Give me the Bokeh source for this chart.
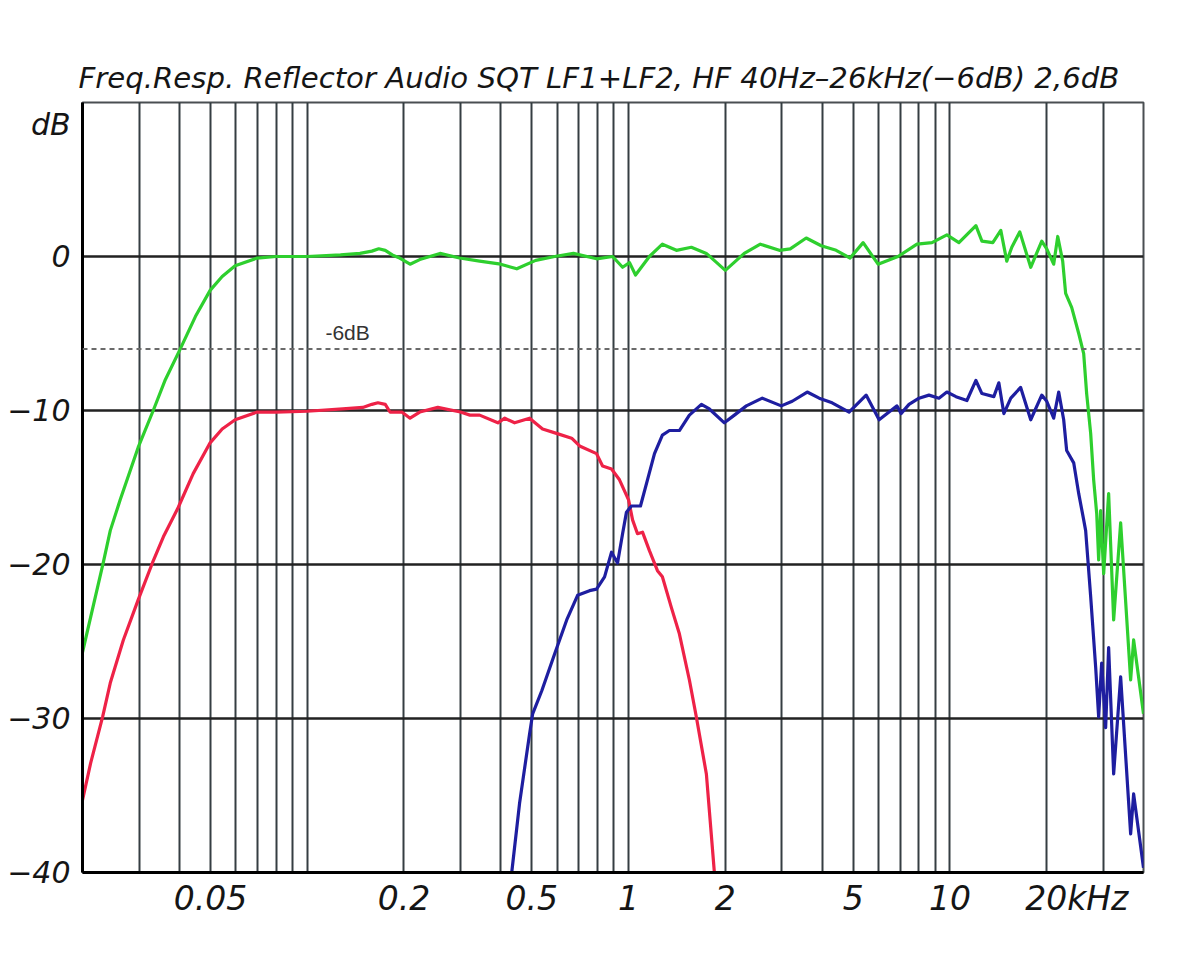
from bokeh.plotting import figure
from bokeh.models import FixedTicker, Span, Label
from bokeh.embed import file_html
from bokeh.resources import INLINE

# ---------------- data (frequency in Hz, level in dB) ----------------
title_text = "Freq.Resp. Reflector Audio SQT LF1+LF2, HF 40Hz\u201326kHz(\u22126dB) 2,6dB"

sum_freq = [20, 23.2, 24.4, 26.2, 29.8, 33.2, 36.2, 40.3, 44.9, 49.9,
            54.4, 59.7, 69.9, 80, 100, 127, 146, 159, 167, 175,
            184, 194, 209, 224, 259, 298, 344, 400, 449, 514,
            589, 674, 795, 892, 958, 1007, 1051, 1161, 1274, 1409,
            1568, 1746, 2000, 2290, 2570, 2944, 3184, 3570, 3975, 4424,
            4888, 5368, 5974, 6890, 7893, 8790, 9780, 10660, 12040, 12570,
            13590, 14390, 15020, 15570, 16490, 17830, 19300, 20000, 21020, 21640,
            22420, 22900, 23910, 25150, 26060, 26620, 27400, 27990, 28610, 29010,
            29430, 30070, 31160, 32300, 33960, 36480, 37270, 40000]
sum_db = [-25.7, -19.9, -17.8, -15.8, -12.4, -10.0, -8.0, -6.0, -3.9, -2.2,
          -1.3, -0.6, -0.1, 0.0, 0.0, 0.1, 0.2, 0.35, 0.5, 0.4,
          0.1, -0.1, -0.5, -0.2, 0.2, -0.1, -0.3, -0.5, -0.8, -0.25,
          0.0, 0.2, -0.15, 0.0, -0.7, -0.4, -1.2, 0.0, 0.8, 0.4,
          0.6, 0.2, -0.9, 0.2, 0.8, 0.4, 0.5, 1.2, 0.7, 0.4,
          -0.1, 0.9, -0.5, 0.0, 0.8, 0.9, 1.4, 0.9, 2.0, 1.0,
          0.9, 1.7, -0.3, 0.6, 1.6, -0.7, 1.0, 0.5, -0.5, 1.3,
          -0.3, -2.4, -3.3, -5.0, -6.3, -8.9, -11.5, -14.5, -16.7, -19.7,
          -16.5, -20.6, -15.4, -23.6, -17.3, -27.5, -24.9, -29.7]

lf_freq = [20, 21.2, 23.1, 24.4, 26.8, 29.8, 33.0, 35.7, 39.7, 44.2,
           49.9, 54.4, 59.7, 69.9, 80, 100, 129, 149, 159, 166,
           175, 181, 197, 209, 224, 255, 300, 321, 344, 392,
           412, 442, 492, 540, 600, 665, 704, 795, 830, 885,
           937, 1000, 1029, 1066, 1105, 1161, 1230, 1274, 1359, 1439,
           1546, 1625, 1746, 1849]
lf_db = [-35.3, -32.9, -29.9, -27.7, -24.9, -22.3, -19.9, -18.2, -16.3, -14.1,
         -12.1, -11.2, -10.6, -10.1, -10.1, -10.05, -9.9, -9.8, -9.6, -9.5,
         -9.6, -10.1, -10.1, -10.5, -10.1, -9.8, -10.1, -10.3, -10.3, -10.8,
         -10.5, -10.8, -10.5, -11.2, -11.5, -11.8, -12.3, -12.8, -13.6, -13.8,
         -14.5, -15.8, -17.1, -18.0, -17.9, -19.1, -20.4, -20.8, -22.8, -24.5,
         -27.5, -29.9, -33.6, -40.0]

hf_freq = [433, 458, 492, 503, 537, 589, 642, 694, 756, 795,
           842, 885, 924, 958, 985, 1021, 1089, 1145, 1204, 1274,
           1340, 1439, 1546, 1685, 1784, 1986, 2134, 2325, 2606, 2986,
           3230, 3596, 3918, 4298, 4854, 5484, 6018, 6462, 6842, 7042,
           7456, 8010, 8602, 9238, 9780, 10440, 11290, 12040, 12570, 13690,
           14190, 14710, 15460, 16590, 17830, 19300, 20000, 21020, 21790, 22580,
           23070, 24260, 25150, 26060, 26430, 27400, 28400, 29010, 29640, 30500,
           31160, 32300, 33960, 36480, 37270, 40000]
hf_db = [-40.0, -35.5, -31.0, -29.7, -28.2, -25.8, -23.6, -22.0, -21.7, -21.6,
         -20.8, -19.2, -19.9, -18.0, -16.6, -16.2, -16.2, -14.5, -12.8, -11.6,
         -11.3, -11.3, -10.3, -9.6, -9.9, -10.8, -10.3, -9.7, -9.2, -9.7,
         -9.4, -8.8, -9.2, -9.5, -10.1, -9.0, -10.6, -10.1, -9.7, -10.2,
         -9.6, -9.2, -9.0, -9.2, -8.8, -9.1, -9.35, -8.05, -8.9, -9.1,
         -8.2, -10.2, -9.2, -8.5, -10.6, -9.0, -9.4, -10.5, -8.8, -10.6,
         -12.6, -13.4, -15.4, -17.1, -17.8, -22.1, -26.7, -29.9, -26.4, -30.6,
         -25.4, -33.6, -27.3, -37.5, -34.9, -39.7]

# tick labels (kHz); the last one carries the unit and is anchored a little
# to the right so that "20" sits under the 20 kHz grid line
x_tick_values = [50, 200, 500, 1000, 2000, 5000, 10000, 24800]
x_tick_labels = ["0.05", "0.2", "0.5", "1", "2", "5", "10", "20kHz"]
y_tick_values = [-40, -30, -20, -10, 0]
y_tick_labels = ["\u221240", "\u221230", "\u221220", "\u221210", "0"]
x_grid_values = [20, 30, 40, 50, 60, 70, 80, 90,
                 100, 200, 300, 400, 500, 600, 700, 800, 900,
                 1000, 2000, 3000, 4000, 5000, 6000, 7000, 8000, 9000,
                 10000, 20000, 30000, 40000]
y_grid_values = [-30, -20, -10, 0]
minus6_level = -6
db_label_level = 8.6

FONT = "DejaVu Sans"

# ---------------- figure ----------------
p = figure(width=1196, height=956, x_axis_type="log",
           x_range=(20, 40000), y_range=(-40, 10),
           output_backend="svg", toolbar_location=None,
           min_border_left=82, min_border_right=53,
           min_border_top=102, min_border_bottom=84)

p.background_fill_color = "white"
p.border_fill_color = "white"
p.outline_line_color = "#4a4f52"
p.outline_line_width = 2

p.title.text = title_text
p.title.text_font = FONT
p.title.text_font_style = "italic"
p.title.text_font_size = "29.2px"
p.title.text_color = "#151515"
p.title.align = "left"
p.title.offset = -4
p.title.standoff = 15

# grids
p.xgrid.ticker = FixedTicker(ticks=x_grid_values)
p.xgrid.grid_line_color = "#2a3438"
p.xgrid.grid_line_width = 2
p.xgrid.grid_line_alpha = 0.95
p.ygrid.ticker = FixedTicker(ticks=y_grid_values)
p.ygrid.grid_line_color = "#222222"
p.ygrid.grid_line_width = 2.5

# x axis
p.xaxis.ticker = FixedTicker(ticks=x_tick_values)
p.xaxis.major_label_overrides = {v: s for v, s in zip(x_tick_values, x_tick_labels)}
p.xaxis.minor_tick_line_color = None
p.xaxis.major_tick_line_color = None
p.xaxis.axis_line_color = "black"
p.xaxis.axis_line_width = 3
p.xaxis.major_label_text_font = FONT
p.xaxis.major_label_text_font_style = "italic"
p.xaxis.major_label_text_font_size = "33px"
p.xaxis.major_label_text_color = "#151515"
p.xaxis.major_label_standoff = 0

# y axis
p.yaxis.ticker = FixedTicker(ticks=y_tick_values + [db_label_level])
overrides = {v: s for v, s in zip(y_tick_values, y_tick_labels)}
overrides[db_label_level] = "dB"
p.yaxis.major_label_overrides = overrides
p.yaxis.minor_tick_line_color = None
p.yaxis.major_tick_line_color = None
p.yaxis.axis_line_color = "black"
p.yaxis.axis_line_width = 3
p.yaxis.major_label_text_font = FONT
p.yaxis.major_label_text_font_style = "italic"
p.yaxis.major_label_text_font_size = "30px"
p.yaxis.major_label_text_color = "#151515"
p.yaxis.major_label_standoff = 6

# -6 dB reference line
p.add_layout(Span(location=minus6_level, dimension="width", line_color="#6a6a6a",
                  line_width=2, line_dash="5 4"))
p.add_layout(Label(x=114, y=minus6_level, y_offset=5, text="-6dB",
                   text_font="Liberation Sans", text_font_size="21px",
                   text_color="#333333", text_baseline="bottom", text_align="left"))

# curves
p.line(lf_freq, lf_db, line_color="#ee2247", line_width=3.2, line_join="round")
p.line(hf_freq, hf_db, line_color="#1e1ea0", line_width=3.2, line_join="round")
p.line(sum_freq, sum_db, line_color="#2ecf2e", line_width=3.2, line_join="round")

open("out.html", "w").write(file_html(p, INLINE))
